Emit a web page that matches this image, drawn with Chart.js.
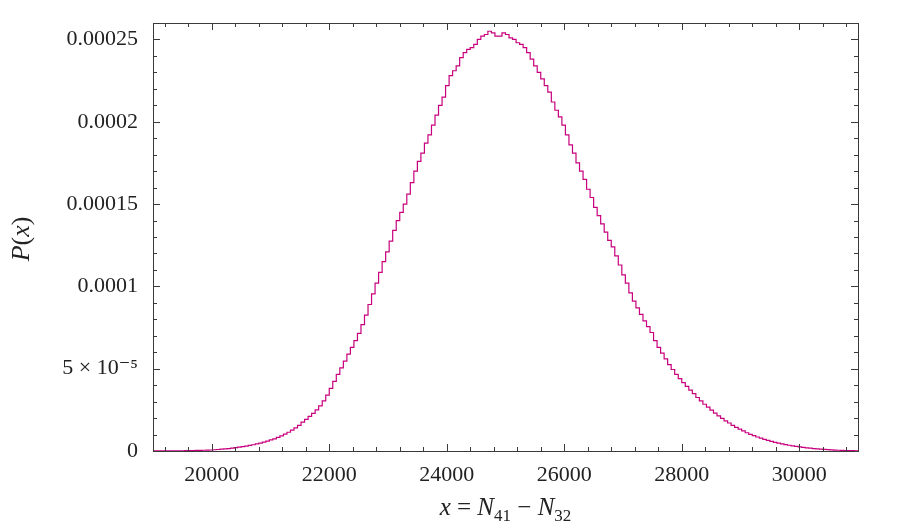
<!DOCTYPE html>
<html>
<head>
<meta charset="utf-8">
<script src="https://cdn.jsdelivr.net/npm/chart.js@4.4.1/dist/chart.umd.min.js"></script>
<style>
  html, body { margin: 0; padding: 0; background: #fff; }
</style>
</head>
<body>
<canvas id="grafica" width="900" height="525"></canvas>
<script>
// Histograma: inicio y ancho de cada bin
const inicioBins = 19000;
const anchoBin = 60;
// Densidad P(x) de cada bin, en unidades de 1e-6
const densidad = [
  0.02, 0.03, 0.03, 0.04, 0.05, 0.07, 0.09, 0.11, 0.14, 0.17,
  0.21, 0.26, 0.32, 0.38, 0.45, 0.52, 0.6, 0.75, 0.92, 1.1,
  1.3, 1.5, 1.75, 2.0, 2.3, 2.65, 3.0, 3.4, 3.8, 4.3,
  4.8, 5.4, 6.0, 6.7, 7.4, 8.3, 9.2, 10.3, 11.4, 12.7,
  14.0, 15.6, 17.5, 19.2, 21.0, 22.9, 25.0, 27.4, 30.5, 34.0,
  38.0, 42.3, 46.5, 50.5, 54.6, 58.8, 62.9, 67.0, 71.5, 76.8,
  82.5, 89.0, 95.5, 102, 108.5, 115, 121, 127.5, 134, 140,
  145, 150, 156, 163, 170, 176, 181, 187, 192, 198,
  204, 210, 215, 222, 228, 231, 234, 239, 242, 244,
  245, 247, 250, 252, 253, 255, 254, 252, 252, 254,
  253, 251, 250, 248, 247, 245, 242, 238, 234, 230,
  226, 222, 218, 212, 207, 203, 198, 192, 186, 181,
  175, 170, 165, 159, 154, 148, 143, 138, 133, 128,
  124, 118.5, 113, 107, 102, 96, 91, 87, 83, 79,
  75.5, 72, 67, 63, 59.5, 56, 52.5, 49.5, 46.5, 44,
  41.5, 39.2, 37, 34.8, 32.5, 30.5, 28.4, 26.6, 24.8, 23,
  21.3, 19.8, 18.3, 17.0, 15.6, 14.4, 13.3, 12.2, 11.1, 10.1,
  9.3, 8.5, 7.8, 7.1, 6.4, 5.9, 5.3, 4.8, 4.35, 3.9,
  3.5, 3.15, 2.8, 2.5, 2.2, 1.95, 1.7, 1.5, 1.3, 1.12,
  0.95, 0.8, 0.66, 0.55, 0.45, 0.36, 0.28, 0.22, 0.17, 0.13
];
// Marcas de los ejes
const ticksX = [20000, 22000, 24000, 26000, 28000, 30000];
const ticksY = [0, 0.00005, 0.0001, 0.00015, 0.0002, 0.00025];
const etiquetasY = ['0', '5 × 10⁻⁵', '0.0001', '0.00015', '0.0002', '0.00025'];
// Titulos de los ejes, por trozos: [texto, cursiva, subindice]
const tituloX = [['x', true, false], [' = ', false, false], ['N', true, false], ['41', false, true],
                 [' − ', false, false], ['N', true, false], ['32', false, true]];
const tituloY = [['P', true, false], ['(', false, false], ['x', true, false], [')', false, false]];

// Puntos en el borde izquierdo de cada bin (stepped 'before' dibuja el escalon)
const puntos = densidad.map((d, i) => ({ x: inicioBins + i * anchoBin, y: d * 1e-6 }));
puntos.push({ x: inicioBins + densidad.length * anchoBin, y: densidad[densidad.length - 1] * 1e-6 });

const fuente = "'Liberation Serif', 'DejaVu Serif', serif";

// Escribe un titulo con partes en cursiva y subindices, centrado en (0, 0)
function escribirTitulo(ctx, trozos, tam) {
  const fontDe = (t) => (t[1] ? 'italic ' : '') + (t[2] ? Math.round(tam * 0.68) : tam) + 'px ' + fuente;
  const anchos = trozos.map(t => { ctx.font = fontDe(t); return ctx.measureText(t[0]).width; });
  const total = anchos.reduce((s, w) => s + w, 0);
  let cx = -total / 2;
  ctx.textAlign = 'left';
  ctx.textBaseline = 'alphabetic';
  trozos.forEach((t, i) => {
    ctx.font = fontDe(t);
    ctx.fillText(t[0], cx, t[2] ? tam * 0.22 : 0);
    cx += anchos[i];
  });
}

// Marco, marcas hacia adentro en los cuatro lados y titulos
const marco = {
  id: 'marco',
  afterDraw(chart) {
    const { ctx, chartArea: a, scales: { x, y } } = chart;
    ctx.save();
    ctx.strokeStyle = '#3a3a3a';
    ctx.lineWidth = 1;
    ctx.beginPath();
    for (let v = 19200; v <= 31000; v += 400) {
      const largo = (v - 20000) % 2000 === 0 ? 7 : 4;
      const px = Math.round(x.getPixelForValue(v)) + 0.5;
      ctx.moveTo(px, a.bottom); ctx.lineTo(px, a.bottom - largo);
      ctx.moveTo(px, a.top); ctx.lineTo(px, a.top + largo);
    }
    for (let k = 0; k <= 26; k++) {
      const largo = k % 5 === 0 ? 7 : 4;
      const py = Math.round(y.getPixelForValue(k * 1e-5)) + 0.5;
      ctx.moveTo(a.left, py); ctx.lineTo(a.left + largo, py);
      ctx.moveTo(a.right, py); ctx.lineTo(a.right - largo, py);
    }
    ctx.stroke();
    ctx.strokeRect(Math.round(a.left) + 0.5, Math.round(a.top) + 0.5,
      Math.round(a.right - a.left), Math.round(a.bottom - a.top));

    ctx.fillStyle = '#222';
    ctx.save();
    ctx.translate((a.left + a.right) / 2, 515);
    escribirTitulo(ctx, tituloX, 25);
    ctx.restore();
    ctx.save();
    ctx.translate(29, (a.top + a.bottom) / 2 + 2);
    ctx.rotate(-Math.PI / 2);
    escribirTitulo(ctx, tituloY, 26);
    ctx.restore();
    ctx.restore();
  }
};

const $grafica = document.querySelector("#grafica");
new Chart($grafica, {
  type: 'line',
  data: {
    datasets: [{
      data: puntos,
      stepped: 'before',
      borderColor: 'rgb(200, 0, 125)',
      borderWidth: 1.2,
      pointRadius: 0,
      pointHoverRadius: 0,
      fill: false
    }]
  },
  options: {
    responsive: false,
    animation: false,
    layout: { autoPadding: false, padding: { top: 23, right: 42, left: 0, bottom: 0 } },
    plugins: { legend: { display: false }, tooltip: { enabled: false } },
    scales: {
      x: {
        type: 'linear',
        min: 19000,
        max: 31000,
        afterBuildTicks: (s) => { s.ticks = ticksX.map(v => ({ value: v })); },
        afterFit: (s) => { s.height = 74; s.paddingLeft = 0; s.paddingRight = 0; },
        grid: { display: false, drawTicks: false },
        border: { display: false },
        ticks: {
          padding: 11,
          color: '#222',
          font: { family: fuente, size: 22 },
          maxRotation: 0,
          callback: (v) => String(v)
        }
      },
      y: {
        min: 0,
        max: 0.00026,
        afterBuildTicks: (s) => { s.ticks = ticksY.map(v => ({ value: v })); },
        afterFit: (s) => { s.width = 153; s.paddingTop = 0; s.paddingBottom = 0; },
        grid: { display: false, drawTicks: false },
        border: { display: false },
        ticks: {
          padding: 15,
          color: '#222',
          font: { family: fuente, size: 22 },
          callback: (v, i) => etiquetasY[i]
        }
      }
    }
  },
  plugins: [marco]
});
</script>
</body>
</html>
